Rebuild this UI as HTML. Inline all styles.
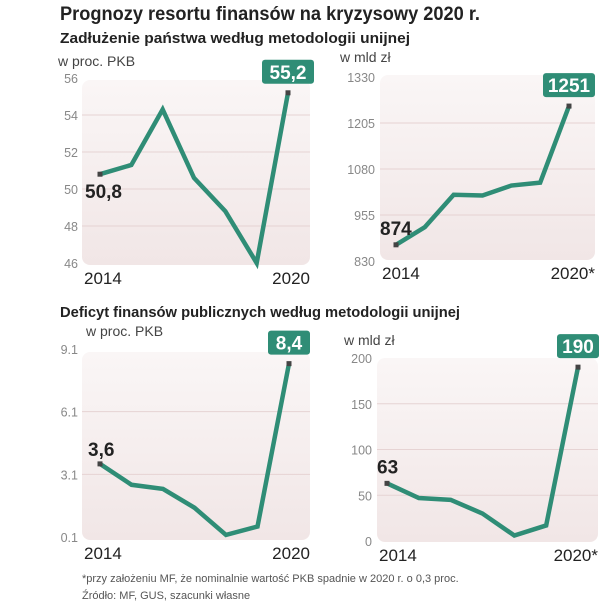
<!DOCTYPE html>
<html><head><meta charset="utf-8"><style>
body{margin:0;background:#fff;width:613px;height:616px;overflow:hidden;font-family:"Liberation Sans",sans-serif}
svg{display:block}
</style></head><body>
<svg id="c" width="613" height="616">
<defs><linearGradient id="bg" x1="0" y1="0" x2="0" y2="1"><stop offset="0" stop-color="#faf6f6"/><stop offset="1" stop-color="#f1e6e6"/></linearGradient></defs>
<text x="60" y="20" font-size="19" font-weight="bold" fill="#222" textLength="420" lengthAdjust="spacingAndGlyphs">Prognozy resortu finansów na kryzysowy 2020 r.</text>
<text x="60" y="43" font-size="15" font-weight="bold" fill="#222" textLength="350" lengthAdjust="spacingAndGlyphs">Zadłużenie państwa według metodologii unijnej</text>
<text x="60" y="317" font-size="15" font-weight="bold" fill="#222" textLength="400" lengthAdjust="spacingAndGlyphs">Deficyt finansów publicznych według metodologii unijnej</text>
<text x="82" y="582" font-size="11" fill="#555">*przy założeniu MF, że nominalnie wartość PKB spadnie w 2020 r. o 0,3 proc.</text>
<text x="82" y="599" font-size="11" fill="#555">Źródło: MF, GUS, szacunki własne</text>
</svg>
<script>
const debtPct=[50.8,51.3,54.3,50.6,48.8,46.0,55.2];
const debtPctTicks=[56,54,52,50,48,46];
const debtBn=[874,922,1010,1008,1035,1043,1251];
const debtBnTicks=[1330,1205,1080,955,830];
const defPct=[3.6,2.6,2.4,1.5,0.2,0.6,8.4];
const defPctTicks=[9.1,6.1,3.1,0.1];
const defBn=[63,47,45,30,6,17,190];
const defBnTicks=[200,150,100,50,0];
const svg=document.getElementById('c');
const NS='http://www.w3.org/2000/svg';
function mk(tag,attrs,parent){const e=document.createElementNS(NS,tag);for(const k in attrs)e.setAttribute(k,attrs[k]);(parent||svg).appendChild(e);return e;}
function panel(id,cfg){
 const g=mk('g',{});
 
 
 const r=mk('rect',{x:cfg.bx0,y:cfg.by0,width:cfg.bx1-cfg.bx0,height:cfg.by1-cfg.by0,rx:8,fill:'url(#bg)'},g);
 
 
 const tmax=cfg.ticks[0],tmin=cfg.ticks[cfg.ticks.length-1];
 const y=v=>cfg.yTop+(tmax-v)/(tmax-tmin)*(cfg.yBot-cfg.yTop);
 const x=i=>cfg.x0+i*(cfg.x1-cfg.x0)/(cfg.data.length-1);
 cfg.ticks.forEach(t=>{
  if(t!==tmin&&t!==tmax){const l=mk('line',{x1:cfg.bx0,x2:cfg.bx1,y1:y(t),y2:y(t),stroke:'#e6d3d3','stroke-width':1},g);
  
  }
  const tx=mk('text',{x:cfg.tickX,y:y(t)+5,'font-size':12.5,fill:'#888','text-anchor':'end'},g);
  tx.textContent=String(t);
  
  
 });
 const u=mk('text',{x:cfg.unitX,y:cfg.unitY,'font-size':14,fill:'#444'},g);
 u.textContent=cfg.unit;
 
 
 const pts=cfg.data.map((v,i)=>x(i)+','+y(v)).join(' ');
 const pl=mk('polyline',{points:pts,fill:'none',stroke:'#2f8d76','stroke-width':4.5,'stroke-linejoin':'miter'},g);
 
 
 [0,cfg.data.length-1].forEach(i=>{const d=mk('rect',{x:x(i)-2.5,y:y(cfg.data[i])-2.5,width:5,height:5,fill:'#444'},g);
  
  });
 const n=cfg.data.length-1;
 const lastTxt=String(cfg.data[n]).replace('.',',');
 const bw=lastTxt.length*10+12;
 const b=mk('rect',{x:x(n)+cfg.boxDx-bw/2,y:y(cfg.data[n])-33,width:bw,height:24,rx:3,fill:'#2f8d76'},g);
 
 
 const lt=mk('text',{x:x(n)+cfg.boxDx,y:y(cfg.data[n])-14,'font-size':19,'font-weight':'bold',fill:'#fff','text-anchor':'middle'},g);
 lt.textContent=lastTxt;
 
 
 const ft=mk('text',{x:x(0)+cfg.firstDx,y:y(cfg.data[0])+cfg.firstDy,'font-size':19,'font-weight':'bold',fill:'#222'},g);
 ft.textContent=String(cfg.data[0]).replace('.',',');
 
 
 const a=mk('text',{x:cfg.bx0+2,y:cfg.by1+19,'font-size':17,fill:'#222'},g);
 a.textContent='2014';
 
 
 const e=mk('text',{x:cfg.bx1,y:cfg.by1+19,'font-size':17,fill:'#222','text-anchor':'end'},g);
 e.textContent=cfg.endLabel;
 
 
}
panel('debt-pct',{data:debtPct,ticks:debtPctTicks,bx0:82,bx1:310,by0:80,by1:265,yTop:78,yBot:263,x0:100,x1:288,tickX:78,unit:'w proc. PKB',unitX:58,unitY:66,boxDx:0,firstDx:-15,firstDy:24,endLabel:'2020'});
panel('debt-bn',{data:debtBn,ticks:debtBnTicks,bx0:380,bx1:595,by0:75,by1:260,yTop:77,yBot:261,x0:396,x1:569,tickX:375,unit:'w mld zł',unitX:340,unitY:62,boxDx:0,firstDx:-16,firstDy:-10,endLabel:'2020*'});
panel('def-pct',{data:defPct,ticks:defPctTicks,bx0:82,bx1:310,by0:352,by1:540,yTop:349,yBot:537,x0:100,x1:289,tickX:78,unit:'w proc. PKB',unitX:86,unitY:336,boxDx:0,firstDx:-12,firstDy:-8,endLabel:'2020'});
panel('def-bn',{data:defBn,ticks:defBnTicks,bx0:377,bx1:598,by0:358,by1:542,yTop:358,yBot:541,x0:387,x1:578,tickX:372,unit:'w mld zł',unitX:344,unitY:345,boxDx:0,firstDx:-10,firstDy:-10,endLabel:'2020*'});
</script>
</body></html>
